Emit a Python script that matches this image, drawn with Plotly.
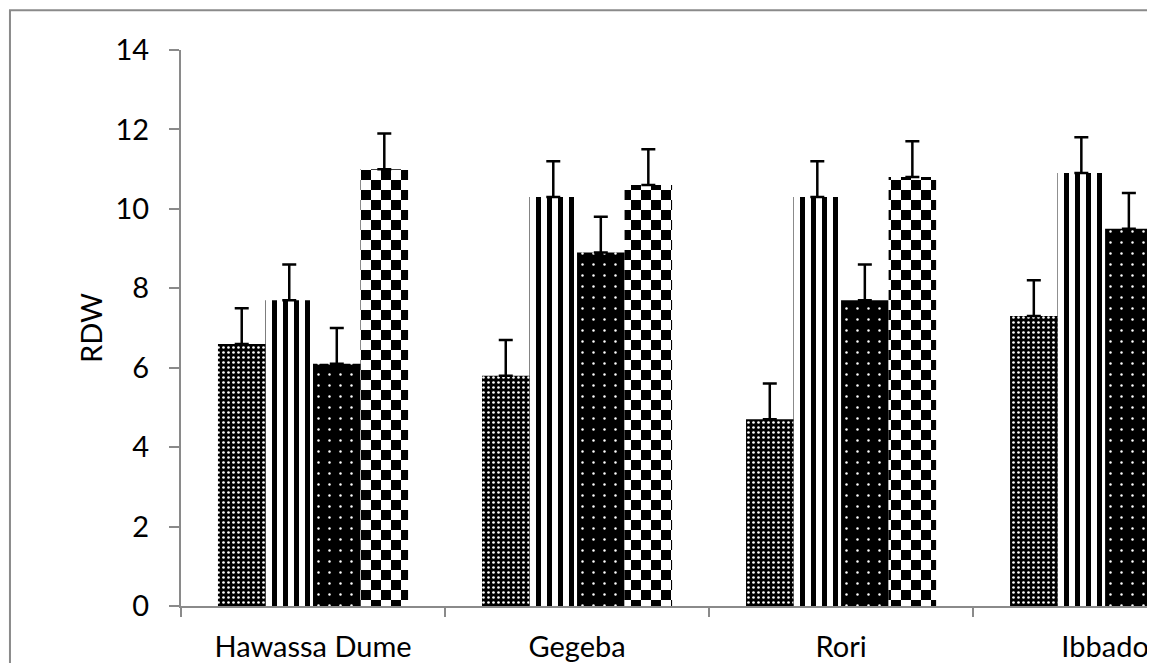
import plotly.graph_objects as go

categories = ["Hawassa Dume", "Gegeba", "Rori", "Ibbado"]
series_names = ["Series 1", "Series 2", "Series 3", "Series 4"]
s1 = [6.6, 5.8, 4.7, 7.3]
s2 = [7.7, 10.3, 10.3, 10.9]
s3 = [6.1, 8.9, 7.7, 9.5]
s4 = [11.0, 10.6, 10.8, 11.6]
e1 = [0.9, 0.9, 0.9, 0.9]
e2 = [0.9, 0.9, 0.9, 0.9]
e3 = [0.9, 0.9, 0.9, 0.9]
e4 = [0.9, 0.9, 0.9, 0.9]
y_ticks = [0, 2, 4, 6, 8, 10, 12, 14]

FONT = "Lato"
AXIS_GRAY = "#8a8a8a"

patterns = [
    dict(shape=".", fillmode="replace", bgcolor="#000000", fgcolor="#ffffff", size=5, solidity=0.22),
    dict(shape="|", fillmode="replace", bgcolor="#ffffff", fgcolor="#000000", size=11, solidity=0.4545),
    dict(shape=".", fillmode="replace", bgcolor="#000000", fgcolor="#ffffff", size=11, solidity=0.04),
    dict(path="M0,0H10V10H0Z M10,10H20V20H10Z", fillmode="replace",
         bgcolor="#ffffff", fgcolor="#000000", size=20, solidity=0.5),
]

fig = go.Figure()
for name, vals, errs, pat in zip(series_names, [s1, s2, s3, s4], [e1, e2, e3, e4], patterns):
    fig.add_trace(go.Bar(
        x=categories, y=vals, name=name,
        marker=dict(color="#ffffff", line=dict(width=0), pattern=pat),
        error_y=dict(type="data", array=errs, arrayminus=[0] * len(errs), symmetric=False,
                     color="#000000", thickness=2.5, width=7),
    ))

# page body has an 8px margin, so the figure is 8px smaller and margins shifted
fig.update_layout(
    width=1147, height=655,
    margin=dict(l=173, r=0, t=42, b=55),
    paper_bgcolor="#ffffff", plot_bgcolor="#ffffff",
    barmode="group", bargap=0.28, bargroupgap=0,
    showlegend=False,
    font=dict(family=FONT, size=29, color="#000000"),
    shapes=[dict(type="rect", xref="paper", yref="paper", x0=-0.1756, x1=1.5, y0=-0.5, y1=1.0717,
                 line=dict(color=AXIS_GRAY, width=2), fillcolor="rgba(0,0,0,0)", layer="below")],
)
fig.update_xaxes(
    range=[-0.5, 3.189], tickson="boundaries", ticks="outside", ticklen=9, tickcolor=AXIS_GRAY,
    tickwidth=2, showline=True, linecolor=AXIS_GRAY, linewidth=2, showgrid=False, zeroline=False,
    tickfont=dict(family=FONT, size=29), ticklabelstandoff=14,
)
fig.update_yaxes(
    range=[0, 14], tickvals=y_ticks, ticks="outside", ticklen=10, tickcolor=AXIS_GRAY, tickwidth=2,
    showline=True, linecolor=AXIS_GRAY, linewidth=2, showgrid=False, zeroline=False,
    tickfont=dict(family=FONT, size=29), ticklabelstandoff=14,
    title=dict(text="RDW", font=dict(family=FONT, size=29), standoff=4),
)

fig.write_html("out.html")
